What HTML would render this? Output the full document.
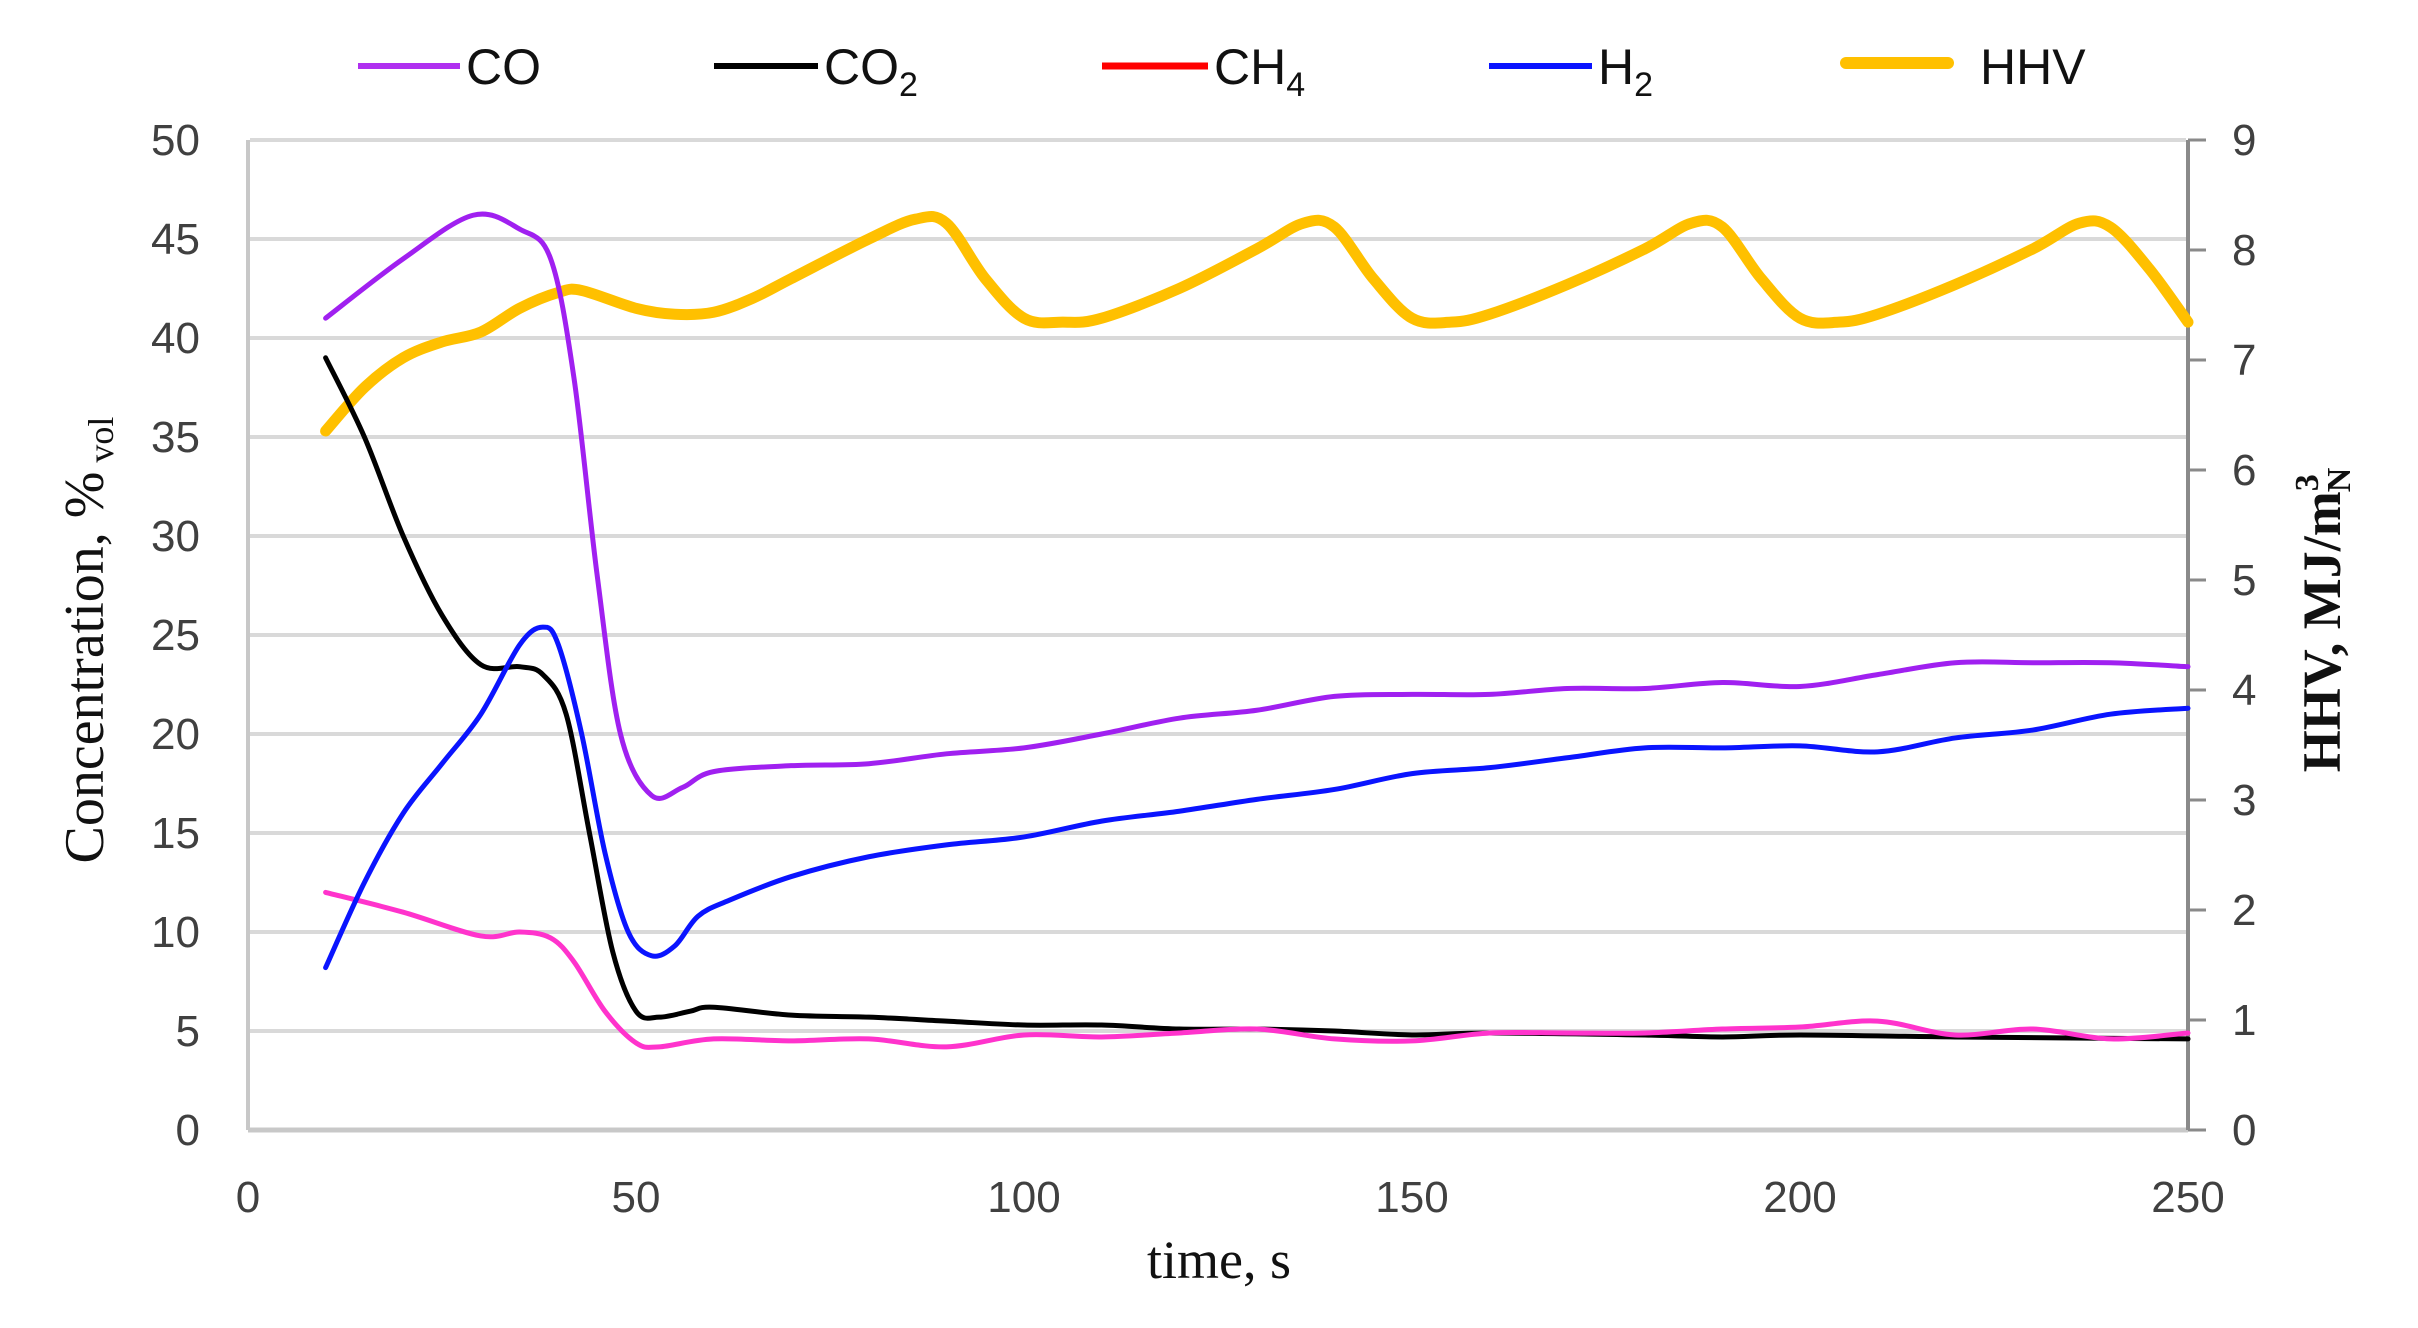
<!DOCTYPE html>
<html><head><meta charset="utf-8">
<style>
html,body{margin:0;padding:0;background:#fff;}
svg{display:block;}
.t{font-family:"Liberation Sans Narrow","Liberation Sans",sans-serif;fill:#404040;font-size:44px;}
.lg{font-family:"Liberation Sans Narrow","Liberation Sans",sans-serif;fill:#111;font-size:50px;}
.sf{font-family:"Liberation Serif",serif;fill:#111;}
</style></head>
<body>
<svg id="s" width="2418" height="1328" viewBox="0 0 2418 1328" xmlns="http://www.w3.org/2000/svg">
<g id="grid" stroke="#d9d9d9" stroke-width="4"></g>
<line x1="248" y1="140" x2="248" y2="1130" stroke="#c8c8c8" stroke-width="4"/>
<line x1="248" y1="1130" x2="2188" y2="1130" stroke="#c8c8c8" stroke-width="5"/>
<line x1="2188" y1="140" x2="2188" y2="1130" stroke="#8a8a8a" stroke-width="4"/>
<g id="rt" stroke="#8a8a8a" stroke-width="3"></g>
<g id="series" fill="none" stroke-linejoin="round" stroke-linecap="round"></g>
<g class="t" text-anchor="end">
<text x="200" y="155">50</text><text x="200" y="254">45</text><text x="200" y="353">40</text><text x="200" y="452">35</text><text x="200" y="551">30</text><text x="200" y="650">25</text><text x="200" y="749">20</text><text x="200" y="848">15</text><text x="200" y="947">10</text><text x="200" y="1046">5</text><text x="200" y="1145">0</text>
</g>
<g class="t">
<text x="2232" y="155">9</text><text x="2232" y="265">8</text><text x="2232" y="375">7</text><text x="2232" y="485">6</text><text x="2232" y="595">5</text><text x="2232" y="705">4</text><text x="2232" y="815">3</text><text x="2232" y="925">2</text><text x="2232" y="1035">1</text><text x="2232" y="1145">0</text>
</g>
<g class="t" text-anchor="middle">
<text x="248" y="1212">0</text><text x="636" y="1212">50</text><text x="1024" y="1212">100</text><text x="1412" y="1212">150</text><text x="1800" y="1212">200</text><text x="2188" y="1212">250</text>
</g>
<text class="sf" x="1219" y="1278" text-anchor="middle" font-size="54">time, s</text>
<text class="sf" transform="translate(103,640) rotate(-90)" text-anchor="middle" font-size="56">Concentration, %<tspan font-size="36" dy="10"> vol</tspan></text>
<text class="sf" transform="translate(2340,620) rotate(-90)" text-anchor="middle" font-size="54" font-weight="bold">HHV, MJ/m<tspan font-size="34" dy="-22">3</tspan><tspan font-size="34" dy="32" dx="-18">N</tspan></text>
<!-- legend -->
<line x1="358" y1="66" x2="460" y2="66" stroke="#b030f0" stroke-width="6"/>
<text class="lg" x="466" y="84">CO</text>
<line x1="714" y1="66" x2="818" y2="66" stroke="#000" stroke-width="6"/>
<text class="lg" x="824" y="84">CO<tspan font-size="34" dy="12">2</tspan></text>
<line x1="1102" y1="66" x2="1208" y2="66" stroke="#ff0000" stroke-width="7"/>
<text class="lg" x="1214" y="84">CH<tspan font-size="34" dy="12">4</tspan></text>
<line x1="1489" y1="66" x2="1592" y2="66" stroke="#0a14ff" stroke-width="6"/>
<text class="lg" x="1598" y="84">H<tspan font-size="34" dy="12">2</tspan></text>
<line x1="1846" y1="63" x2="1948" y2="63" stroke="#ffc000" stroke-width="12" stroke-linecap="round"/>
<text class="lg" x="1980" y="84">HHV</text>
</svg>
<script>
var NS="http://www.w3.org/2000/svg";
function X(t){return 248+t*7.76;}
function Y(v){return 1130-v*19.8;}
var g=document.getElementById('grid');
for(var v=5;v<=50;v+=5){var l=document.createElementNS(NS,'line');l.setAttribute('x1',250);l.setAttribute('x2',2186);l.setAttribute('y1',Y(v));l.setAttribute('y2',Y(v));g.appendChild(l);}
var rt=document.getElementById('rt');
for(var k=0;k<=9;k++){var l=document.createElementNS(NS,'line');var y=1130-k*110;l.setAttribute('x1',2188);l.setAttribute('x2',2206);l.setAttribute('y1',y);l.setAttribute('y2',y);rt.appendChild(l);}
function path(d){var p=d.map(function(a){return [X(a[0]),Y(a[1])];});var s='M'+p[0][0]+','+p[0][1];
for(var i=0;i<p.length-1;i++){var p0=p[i-1]||p[i],p1=p[i],p2=p[i+1],p3=p[i+2]||p2;
s+=' C'+(p1[0]+(p2[0]-p0[0])/6)+','+(p1[1]+(p2[1]-p0[1])/6)+' '+(p2[0]-(p3[0]-p1[0])/6)+','+(p2[1]-(p3[1]-p1[1])/6)+' '+p2[0]+','+p2[1];}return s;}
function add(d,c,w){var e=document.createElementNS(NS,'path');e.setAttribute('d',path(d));e.setAttribute('stroke',c);e.setAttribute('stroke-width',w);document.getElementById('series').appendChild(e);}
var hhv=[[10,35.3],[15,37.5],[20,39],[25,39.8],[30,40.3],[35,41.5],[40,42.3],[43,42.4],[50,41.5],[55,41.2],[60,41.3],[65,42],[70,43],[80,45],[86,46],[90,45.8],[95,43],[100,41],[105,40.8],[110,41],[120,42.5],[130,44.5],[136,45.8],[140,45.6],[145,43],[150,41],[155,40.8],[160,41.2],[170,42.7],[180,44.5],[186,45.8],[190,45.6],[195,43],[200,41],[205,40.8],[210,41.2],[220,42.7],[230,44.5],[236,45.8],[240,45.6],[245,43.5],[250,40.8]];
var ch4=[[10,12],[20,11],[30,9.8],[35,10],[39,9.7],[42,8.5],[46,6],[50,4.4],[53,4.2],[60,4.6],[70,4.5],[80,4.6],[90,4.2],[100,4.8],[110,4.7],[120,4.9],[130,5.1],[140,4.6],[150,4.5],[160,4.9],[170,4.9],[180,4.9],[190,5.1],[200,5.2],[210,5.5],[220,4.8],[230,5.1],[240,4.6],[250,4.9]];
var co2=[[10,39],[15,35],[20,30],[25,26],[30,23.5],[35,23.4],[38,23],[41,21],[44,15],[47,9],[50,6],[53,5.7],[57,6],[60,6.2],[70,5.8],[80,5.7],[90,5.5],[100,5.3],[110,5.3],[120,5.1],[130,5.1],[140,5.0],[150,4.8],[160,4.9],[180,4.8],[190,4.7],[200,4.8],[220,4.7],[250,4.6]];
var h2=[[10,8.2],[15,12.5],[20,16],[25,18.5],[30,21],[35,24.5],[38,25.4],[40,24.5],[43,20],[46,14],[49,10],[52,8.8],[55,9.3],[58,10.8],[62,11.6],[70,12.8],[80,13.8],[90,14.4],[100,14.8],[110,15.6],[120,16.1],[130,16.7],[140,17.2],[150,18],[160,18.3],[170,18.8],[180,19.3],[190,19.3],[200,19.4],[210,19.1],[220,19.8],[230,20.2],[240,21],[250,21.3]];
var co=[[10,41],[20,44],[29,46.2],[35,45.5],[39,44],[42,38],[45,28],[48,20],[52,16.9],[56,17.3],[60,18.1],[70,18.4],[80,18.5],[90,19],[100,19.3],[110,20],[120,20.8],[130,21.2],[140,21.9],[150,22],[160,22],[170,22.3],[180,22.3],[190,22.6],[200,22.4],[210,23],[220,23.6],[230,23.6],[240,23.6],[250,23.4]];
add(hhv,'#ffc000',11);
add(co2,'#000',5);
add(ch4,'#ff33cc',5);
add(h2,'#0a14ff',5);
add(co,'#a020f0',5);
</script>
</body></html>
